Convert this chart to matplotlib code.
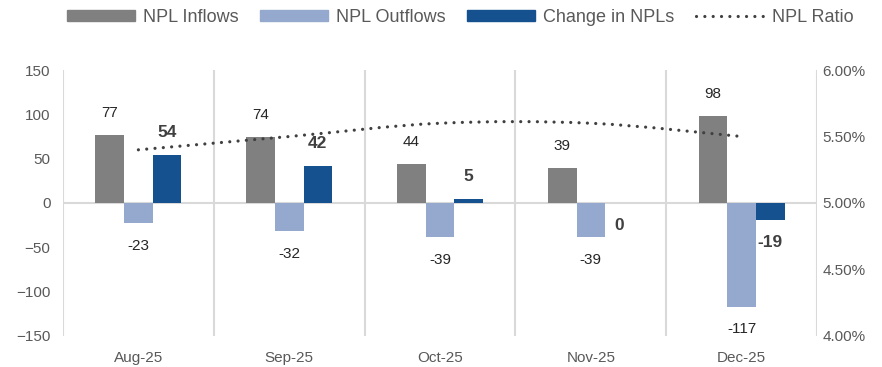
"""NPL inflows / outflows / net change with NPL ratio on a secondary axis."""
import matplotlib
matplotlib.use("Agg")
import matplotlib.pyplot as plt
from matplotlib.lines import Line2D
from matplotlib.patches import Patch, PathPatch
from matplotlib.path import Path
import matplotlib.transforms as mtransforms
import numpy as np

plt.rcParams["font.family"] = ["Liberation Sans", "DejaVu Sans"]

months = ["Aug-25", "Sep-25", "Oct-25", "Nov-25", "Dec-25"]
inflows = [77, 74, 44, 39, 98]
outflows = [-23, -32, -39, -39, -117]
change = [54, 42, 5, 0, -19]
npl_ratio = [5.40, 5.50, 5.60, 5.60, 5.50]

C_IN = "#808080"
C_OUT = "#95A9CE"
C_CHG = "#15508F"
C_LINE = "#404040"
C_GRID = "#D9D9D9"
C_TICK = "#595959"


def smooth_path(xs, ys):
    # Catmull-Rom through the points, expressed as cubic Bezier segments
    pts = np.column_stack([xs, ys]).astype(float)
    n = len(pts)
    verts = [pts[0]]
    codes = [Path.MOVETO]
    for i in range(n - 1):
        p0 = pts[max(i - 1, 0)]
        p1 = pts[i]
        p2 = pts[i + 1]
        p3 = pts[min(i + 2, n - 1)]
        c1 = p1 + (p2 - p0) / 6
        c2 = p2 - (p3 - p1) / 6
        verts += [c1, c2, p2]
        codes += [Path.CURVE4] * 3
    return Path(verts, codes)


fig = plt.figure(figsize=(8.82, 3.67), dpi=100)
ax = fig.add_axes([0.0714, 0.085, 0.855, 0.724])
x = np.arange(len(months))
w = 0.19

ax.bar(x - w, inflows, w, color=C_IN, zorder=3)
ax.bar(x, outflows, w, color=C_OUT, zorder=3)
ax.bar(x + w, change, w, color=C_CHG, zorder=3)

ax.set_xlim(-0.5, len(months) - 0.5)
ax.set_ylim(-150, 150)
ax.set_yticks(range(-150, 151, 50))
ax.set_xticks(x)
ax.set_xticklabels(months)
for v in np.arange(-0.5, len(months), 1.0):
    ax.axvline(v, color=C_GRID, lw=1.5, zorder=1)
ax.axhline(0, color=C_GRID, lw=1.5, zorder=2)
for s in ax.spines.values():
    s.set_visible(False)
ax.tick_params(axis="both", length=0, labelsize=11, colors=C_TICK)
ax.tick_params(axis="y", pad=9)
ax.tick_params(axis="x", pad=11)

# value labels, offset in points past the bar end
def label(xpos, val, bold=False):
    off = 16 if val > 0 else -16
    tr = mtransforms.offset_copy(ax.transData, fig=fig, x=0, y=off, units="points")
    ax.text(xpos, val, f"{val}", transform=tr, ha="center", va="center",
            fontsize=12.5 if bold else 11, fontweight="bold" if bold else "normal",
            color=C_LINE if bold else "#262626", zorder=5)

for i in range(len(months)):
    label(x[i] - w, inflows[i])
    label(x[i], outflows[i])
    label(x[i] + w, change[i], bold=True)

ax2 = ax.twinx()
ax2.set_ylim(4.0, 6.0)
ax2.set_yticks(np.arange(4.0, 6.01, 0.5))
ax2.set_yticklabels([f"{t:.2f}%" for t in np.arange(4.0, 6.01, 0.5)])
for s in ax2.spines.values():
    s.set_visible(False)
ax2.tick_params(axis="y", length=0, labelsize=11, colors=C_TICK, pad=4)

line = PathPatch(smooth_path(x, npl_ratio), fill=False, edgecolor=C_LINE, lw=2.3,
                 linestyle=(0, (0.01, 2.6)), capstyle="round", zorder=4)
ax2.add_patch(line)

handles = [
    Patch(color=C_IN, label="NPL Inflows"),
    Patch(color=C_OUT, label="NPL Outflows"),
    Patch(color=C_CHG, label="Change in NPLs"),
    Line2D([], [], color=C_LINE, lw=2.3, linestyle=(0, (0.01, 2.6)),
           dash_capstyle="round", label="NPL Ratio"),
]
leg = fig.legend(handles=handles, loc="center", bbox_to_anchor=(0.522, 0.952), ncol=4,
                 frameon=False, fontsize=13, handlelength=3.75, handleheight=0.55,
                 columnspacing=1.2, handletextpad=0.45, labelcolor=C_TICK)

fig.savefig("out.png", dpi=100)
